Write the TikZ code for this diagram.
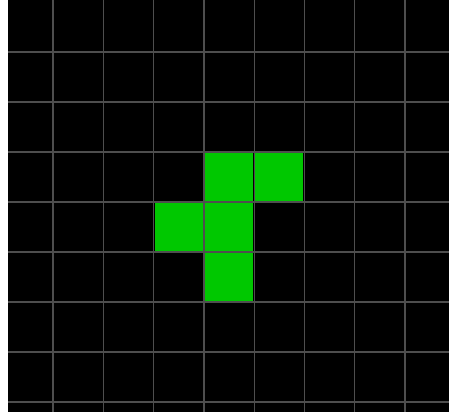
\documentclass[tikz,border=0pt]{standalone}
\definecolor{cellgreen}{RGB}{0,200,0}
\definecolor{gridgray}{RGB}{78,78,78}
\begin{document}
\begin{tikzpicture}[x=1pt, y=-1pt]
	\useasboundingbox (0,0) rectangle (449,412);
	\fill[white] (0,0) rectangle (8,412);
	\fill[black] (8,0) rectangle (449,412);
	\foreach \i in {0,...,7} {\draw[gridgray, line width=1.3pt] ({53+50.3*\i},0) -- ({53+50.3*\i},412);}
	\foreach \j in {0,...,7} {\draw[gridgray, line width=1.3pt] (8,{52+50*\j}) -- (449,{52+50*\j});}
	\foreach \c/\r in {3/2,4/2,2/3,3/3,3/4} {\fill[cellgreen] ({53+50.3*\c+1.2},{52+50*\r+1.2}) rectangle ({53+50.3*(\c+1)-1.2},{52+50*(\r+1)-1.2});}
\end{tikzpicture}
\end{document}
